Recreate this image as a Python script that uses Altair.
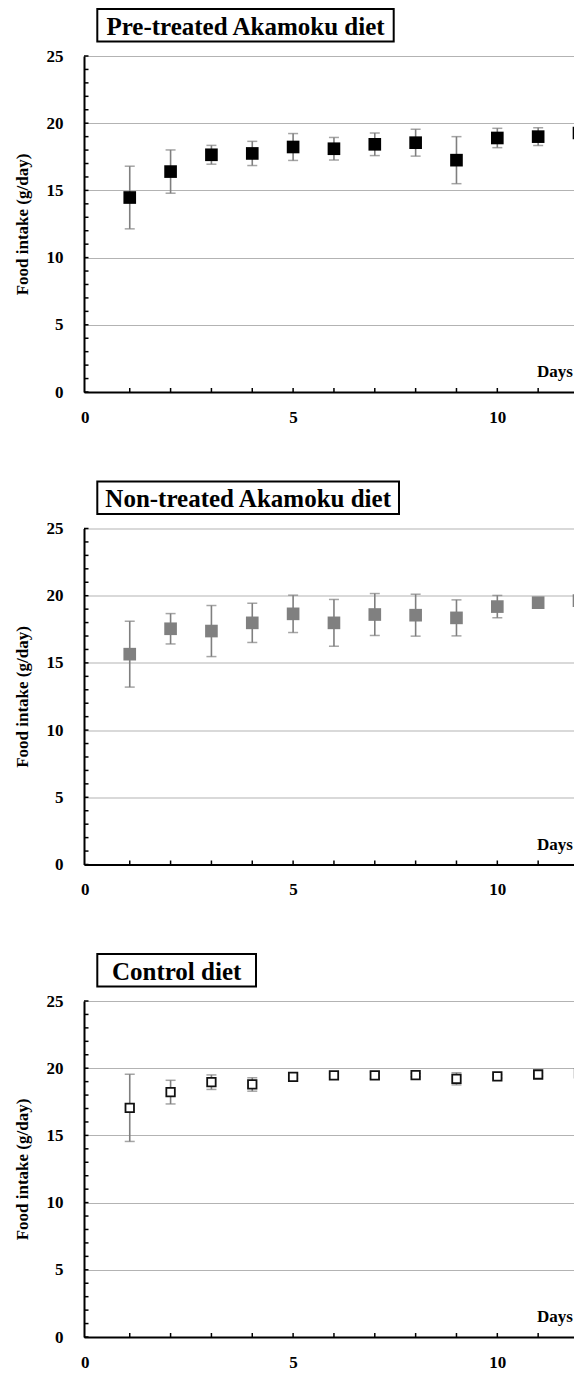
import altair as alt
import pandas as pd

# ---- data ----
days = list(range(1, 13))

pre_mean = [14.47, 16.40, 17.65, 17.75, 18.23, 18.10, 18.43, 18.55, 17.25, 18.90, 19.00, 19.27]
pre_sd = [2.33, 1.61, 0.70, 0.90, 1.00, 0.84, 0.84, 1.00, 1.75, 0.72, 0.66, 0.35]

non_mean = [15.65, 17.54, 17.37, 17.98, 18.65, 17.98, 18.60, 18.55, 18.35, 19.19, 19.48, 19.63]
non_sd = [2.45, 1.13, 1.90, 1.46, 1.39, 1.74, 1.56, 1.56, 1.34, 0.83, 0.30, 0.30]

ctl_mean = [17.05, 18.22, 18.96, 18.79, 19.36, 19.46, 19.47, 19.49, 19.21, 19.39, 19.53, 19.61]
ctl_sd = [2.50, 0.88, 0.54, 0.50, 0.12, 0.12, 0.25, 0.12, 0.45, 0.12, 0.12, 0.12]

titles = ["Pre-treated Akamoku diet", "Non-treated Akamoku diet", "Control diet"]
y_tick_values = list(range(0, 26))
x_tick_values = list(range(1, 13))
y_label_values = [0, 5, 10, 15, 20, 25]
x_label_values = [0, 5, 10]
y_title = "Food intake (g/day)"
x_title = "Days"

# ---- styling ----
W, H = 495, 336
FONT = "Liberation Serif"
GREY = "#7f7f7f"


def panel(mean, sd, title, box_right, kind):
    df = pd.DataFrame({"day": days, "mean": mean, "sd": sd})
    df["lo"] = df["mean"] - df["sd"]
    df["hi"] = df["mean"] + df["sd"]

    xs = alt.Scale(domain=[-0.12, 12], nice=False, zero=False)
    ys = alt.Scale(domain=[0, 25], nice=False, zero=False)

    x_axis = alt.Axis(
        values=x_label_values, title=None, ticks=False, grid=False,
        domainColor="black", domainWidth=2,
        labelFont=FONT, labelFontSize=17, labelFontWeight="bold", labelColor="black",
        labelPadding=17, labelFlush=False,
        labelAlign={"condition": {"test": "datum.value == 0", "value": "right"}, "value": "center"},
    )
    y_axis = alt.Axis(
        values=y_label_values, title=y_title, ticks=False, grid=True,
        gridColor="#b3b3b3", gridWidth=1.2,
        domainColor="black", domainWidth=2,
        labelFont=FONT, labelFontSize=17, labelFontWeight="bold", labelColor="black",
        labelPadding=21, labelFlush=False,
        titleFont=FONT, titleFontSize=17, titleFontWeight="bold", titleColor="black",
        titlePadding=15,
    )

    def X(f):
        return alt.X(f, scale=xs, axis=x_axis)

    def Y(f):
        return alt.Y(f, scale=ys, axis=y_axis)

    base = alt.Chart(df)
    bars = base.mark_rule(color=GREY, strokeWidth=1.6).encode(
        x=X("day:Q"), y=Y("lo:Q"), y2="hi:Q",
    )
    cap_lo = base.mark_tick(orient="horizontal", size=10, thickness=1.5,
                            color=GREY).encode(x=X("day:Q"), y=Y("lo:Q"))
    cap_hi = base.mark_tick(orient="horizontal", size=10, thickness=1.5,
                            color=GREY).encode(x=X("day:Q"), y=Y("hi:Q"))
    if kind == "black":
        pts_mark = base.mark_square(size=160, fill="black", opacity=1)
    elif kind == "grey":
        pts_mark = base.mark_square(size=160, fill="#808080", opacity=1)
    else:
        pts_mark = base.mark_square(size=72, fill="white", stroke="#111111",
                                    strokeWidth=1.8, opacity=1)
    pts = pts_mark.encode(x=X("day:Q"), y=Y("mean:Q"))

    yt = alt.Chart(pd.DataFrame({"v": y_tick_values})).mark_rule(
        color="black", strokeWidth=1.5).encode(
        y=Y("v:Q"), x=alt.value(0), x2=alt.value(4.5),
    )
    xt = alt.Chart(pd.DataFrame({"d": x_tick_values})).mark_rule(
        color="black", strokeWidth=1.5).encode(
        x=X("d:Q"), y=alt.value(H), y2=alt.value(H - 4),
    )

    days_txt = alt.Chart(pd.DataFrame({"t": [x_title]})).mark_text(
        align="right", baseline="alphabetic", font=FONT, fontSize=17,
        fontWeight="bold", color="black").encode(
        x=alt.value(W - 6), y=alt.value(H - 15), text="t:N")

    box = alt.Chart(pd.DataFrame({"t": [title]})).mark_rect(
        fill="white", stroke="black", strokeWidth=2).encode(
        x=alt.value(13.3), x2=alt.value(box_right),
        y=alt.value(-47), y2=alt.value(-14.5))
    box_txt = alt.Chart(pd.DataFrame({"t": [title]})).mark_text(
        align="center", baseline="middle", font=FONT, fontSize=25,
        fontWeight="bold", color="black").encode(
        x=alt.value((13.3 + box_right) / 2), y=alt.value(-29.5), text="t:N")

    return alt.layer(bars, cap_lo, cap_hi, pts, yt, xt, days_txt, box, box_txt).properties(
        width=W, height=H)


p1 = panel(pre_mean, pre_sd, titles[0], 309.7, "black")
p2 = panel(non_mean, non_sd, titles[1], 315.0, "grey")
p3 = panel(ctl_mean, ctl_sd, titles[2], 172.0, "open")

chart = alt.vconcat(p1, p2, p3, spacing=55.5).properties(
    padding={"left": 5, "top": 0, "right": -13, "bottom": 0}
).configure(font=FONT).configure_view(stroke=None)

chart.save("out.html", embed_options={"renderer": "svg", "actions": False})
